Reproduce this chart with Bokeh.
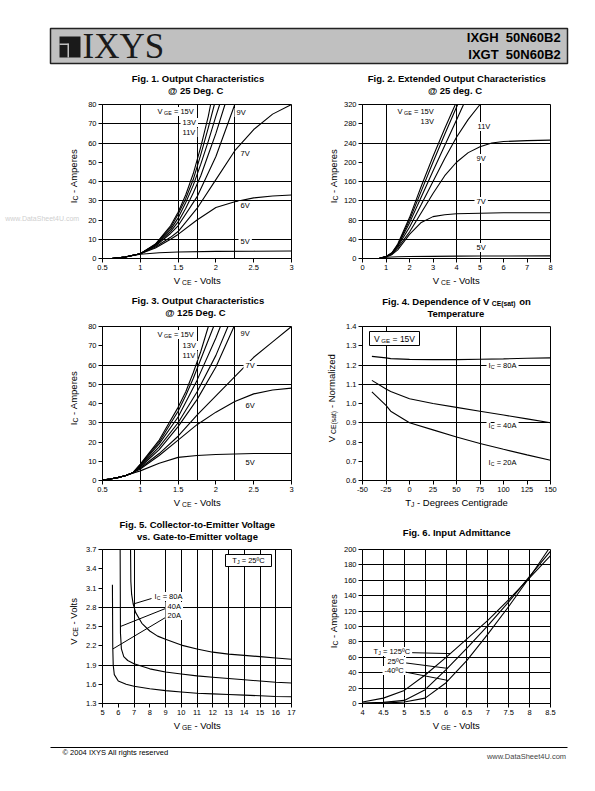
import math
import numpy as np
from bokeh.plotting import figure
from bokeh.models import Label, FixedTicker, Range1d, NumeralTickFormatter, BoxAnnotation
from bokeh.layouts import column, row
from bokeh.embed import file_html
from bokeh.resources import INLINE

FONT = "Liberation Sans"
SERIF = "Liberation Serif"

# ---------------- data ----------------
# Fig 1: Output characteristics @ 25C  (VCE [V], IC [A])
f1_15_x = [0.62, 0.8, 1.0, 1.2, 1.4, 1.5, 1.6, 1.7, 1.8, 1.9, 1.93]
f1_15_y = [0, 0.8, 2.5, 7.5, 17, 24, 33, 44, 58, 74, 80]
f1_13_x = [0.62, 0.8, 1.0, 1.2, 1.4, 1.5, 1.6, 1.7, 1.8, 1.9, 1.98]
f1_13_y = [0, 0.8, 2.5, 7.3, 16, 23, 31, 41, 54, 68, 80]
f1_11_x = [0.62, 0.8, 1.0, 1.2, 1.4, 1.5, 1.6, 1.7, 1.8, 1.9, 2.0, 2.05]
f1_11_y = [0, 0.8, 2.5, 7, 15, 21, 29, 38, 49, 61, 74, 80]
f1_10_x = [0.62, 0.8, 1.0, 1.2, 1.4, 1.5, 1.6, 1.7, 1.8, 1.9, 2.0, 2.12]
f1_10_y = [0, 0.8, 2.5, 7, 14, 19, 26, 34, 43, 54, 65, 80]
f1_9_x = [0.62, 0.8, 1.0, 1.2, 1.4, 1.5, 1.75, 2.0, 2.25]
f1_9_y = [0, 0.8, 2.5, 6.5, 13, 17, 32, 53, 80]
f1_7_x = [0.62, 0.8, 1.0, 1.2, 1.4, 1.5, 1.75, 2.0, 2.25, 2.5, 2.75, 3.0]
f1_7_y = [0, 0.8, 2.5, 6, 11, 14, 26, 41, 56, 67, 75, 80]
f1_6_x = [0.62, 0.8, 1.0, 1.2, 1.4, 1.5, 1.75, 2.0, 2.25, 2.5, 2.75, 3.0]
f1_6_y = [0, 0.8, 2.5, 5.5, 10, 12.5, 20, 26.5, 29.5, 31.5, 32.5, 33]
f1_5_x = [0.62, 0.8, 1.0, 1.25, 1.5, 2.0, 2.5, 3.0]
f1_5_y = [0, 0.8, 2.2, 3.0, 3.4, 3.7, 3.8, 3.9]

# Fig 2: Extended output characteristics @ 25C
f2_15_x = [0.7, 1.0, 1.25, 1.5, 2.0, 2.5, 3.0, 3.5, 3.95]
f2_15_y = [0, 4, 12, 30, 85, 150, 212, 270, 320]
f2_13_x = [0.7, 1.0, 1.25, 1.5, 2.0, 2.5, 3.0, 3.5, 4.05]
f2_13_y = [0, 4, 11, 28, 80, 140, 200, 258, 320]
f2_12_x = [0.7, 1.0, 1.25, 1.5, 2.0, 2.5, 3.0, 3.5, 4.0, 4.3]
f2_12_y = [0, 4, 11, 27, 74, 128, 182, 235, 288, 320]
f2_11_x = [0.7, 1.0, 1.25, 1.5, 2.0, 2.5, 3.0, 3.5, 4.0, 4.5, 5.0]
f2_11_y = [0, 4, 10, 25, 65, 112, 160, 208, 252, 289, 320]
f2_9_x = [0.7, 1.0, 1.25, 1.5, 2.0, 2.5, 3.0, 3.5, 4.0, 4.5, 5.0, 5.5, 6.0, 7.0, 8.0]
f2_9_y = [0, 4, 9, 22, 55, 95, 135, 172, 200, 220, 232, 240, 243, 245, 246]
f2_7_x = [0.7, 1.0, 1.25, 1.5, 2.0, 2.5, 3.0, 3.5, 4.0, 5.0, 6.0, 8.0]
f2_7_y = [0, 3, 8, 18, 50, 75, 87, 91, 93, 94, 95, 95]
f2_5_x = [0.7, 1.0, 1.5, 2.0, 3.0, 4.0, 5.0, 8.0]
f2_5_y = [0, 2.5, 3.5, 4, 4.5, 5, 5.2, 5.5]

# Fig 3: Output characteristics @ 125C
f3_15_x = [0.5, 0.6, 0.7, 0.8, 0.9, 1.0, 1.25, 1.5, 1.6, 1.7, 1.8, 1.9]
f3_15_y = [0.3, 0.8, 1.5, 2.5, 4, 8.5, 21, 38, 46, 56, 67, 80]
f3_13_x = [0.5, 0.6, 0.7, 0.8, 0.9, 1.0, 1.25, 1.5, 1.6, 1.7, 1.8, 1.9, 1.97]
f3_13_y = [0.3, 0.8, 1.5, 2.5, 4, 8.2, 20, 36, 44, 53, 63, 73, 80]
f3_11_x = [0.5, 0.6, 0.7, 0.8, 0.9, 1.0, 1.25, 1.5, 1.75, 2.0, 2.06]
f3_11_y = [0.3, 0.8, 1.5, 2.5, 4, 7.8, 19, 33, 52, 74, 80]
f3_10_x = [0.5, 0.6, 0.7, 0.8, 0.9, 1.0, 1.25, 1.5, 1.75, 2.0, 2.16]
f3_10_y = [0.3, 0.8, 1.5, 2.5, 4, 7.4, 17.5, 30, 46, 65, 80]
f3_9_x = [0.5, 0.6, 0.7, 0.8, 0.9, 1.0, 1.25, 1.5, 1.75, 2.0, 2.24]
f3_9_y = [0.3, 0.8, 1.5, 2.5, 4, 7, 16, 28, 42, 59, 80]
f3_7_x = [0.5, 0.6, 0.7, 0.8, 0.9, 1.0, 1.25, 1.5, 1.75, 2.0, 2.25, 2.5, 2.75, 3.0]
f3_7_y = [0.3, 0.8, 1.5, 2.5, 4, 6.5, 14, 23, 34, 44, 54, 64, 72, 80]
f3_6_x = [0.5, 0.6, 0.7, 0.8, 0.9, 1.0, 1.25, 1.5, 1.75, 2.0, 2.25, 2.5, 2.75, 3.0]
f3_6_y = [0.3, 0.8, 1.5, 2.5, 4, 6, 13, 21, 29, 35.5, 41, 45, 47, 48]
f3_5_x = [0.5, 0.6, 0.7, 0.8, 0.9, 1.0, 1.25, 1.5, 1.75, 2.0, 2.5, 3.0]
f3_5_y = [0.3, 0.8, 1.5, 2.5, 3.8, 5, 9, 12, 13, 13.5, 14, 14]

# Fig 4: VCE(sat) normalized vs temperature
f4_t = [-40, -25, -20, 0, 25, 50, 75, 100, 125, 150]
f4_80 = [1.245, 1.237, 1.233, 1.229, 1.228, 1.228, 1.230, 1.232, 1.235, 1.237]
f4_40 = [1.12, 1.075, 1.062, 1.025, 1.0, 0.98, 0.96, 0.94, 0.92, 0.90]
f4_20 = [1.06, 0.99, 0.96, 0.90, 0.863, 0.826, 0.792, 0.762, 0.733, 0.705]

# Fig 5: VCE vs VGE
f5_80_x = [6.78, 6.8, 6.85, 6.95, 7.1, 7.5, 8, 8.5, 9, 10, 11, 12, 13, 14, 15, 16, 17]
f5_80_y = [3.7, 3.2, 3.0, 2.85, 2.72, 2.55, 2.43, 2.35, 2.3, 2.21, 2.15, 2.1, 2.07, 2.05, 2.03, 2.01, 1.99]
f5_40_x = [6.12, 6.14, 6.2, 6.35, 6.6, 7, 8, 9, 10, 11, 12, 13, 14, 15, 16, 17]
f5_40_y = [3.7, 2.4, 2.15, 2.03, 1.97, 1.92, 1.84, 1.79, 1.76, 1.73, 1.71, 1.69, 1.67, 1.65, 1.63, 1.62]
f5_20_x = [5.63, 5.65, 5.68, 5.75, 6, 6.5, 7, 8, 9, 10, 11, 12, 13, 14, 15, 16, 17]
f5_20_y = [3.15, 2.2, 1.9, 1.75, 1.65, 1.6, 1.57, 1.53, 1.5, 1.48, 1.46, 1.45, 1.44, 1.43, 1.42, 1.41, 1.405]

# Fig 6: Input admittance
f6_125_x = [4.0, 4.5, 5.0, 5.5, 6.0, 6.5, 7.0, 7.5, 8.0, 8.5]
f6_125_y = [2, 7, 17, 37, 60, 84, 108, 135, 163, 192]
f6_25_x = [4.0, 4.5, 5.0, 5.5, 6.0, 6.5, 7.0, 7.5, 8.0, 8.5]
f6_25_y = [0.5, 1.5, 4, 18, 44, 72, 101, 132, 165, 198]
f6_m40_x = [4.0, 4.5, 5.0, 5.5, 6.0, 6.5, 7.0, 7.5, 8.0, 8.45]
f6_m40_y = [0, 0.5, 2, 7, 27, 56, 90, 126, 164, 200]

# ---------------- text helpers ----------------
NB = "\u00a0"
EM = {' ': .278, NB: .278, '.': .278, ',': .278, '-': .333, '=': .584, '(': .333, ')': .333, '@': 1.015,
      'º': .365, '©': .737, '/': .278}
for c in "0123456789":
    EM[c] = .556
EM.update(dict(zip("ABCDEFGHIJKLMNOPQRSTUVWXYZ",
                   [.667, .667, .722, .722, .667, .611, .778, .722, .278, .5, .667, .556, .833, .722, .778,
                    .667, .778, .722, .667, .611, .722, .667, .944, .667, .667, .611])))
EM.update(dict(zip("abcdefghijklmnopqrstuvwxyz",
                   [.556, .556, .5, .556, .556, .278, .556, .556, .222, .222, .5, .222, .833, .556, .556,
                    .556, .556, .333, .5, .278, .556, .5, .722, .5, .5, .5])))


def tw(s, size, bold=False):
    return sum(EM.get(c, .556) for c in s) * size * (1.07 if bold else 1.0)


class Geo:
    def __init__(self, x0, x1, y0, y1, xr, yr):
        self.x0, self.x1, self.y0, self.y1, self.xr, self.yr = x0, x1, y0, y1, xr, yr

    def x(self, px):
        return self.xr[0] + (px - self.x0) * (self.xr[1] - self.xr[0]) / (self.x1 - self.x0)

    def y(self, py):
        return self.yr[0] + (self.y1 - py) * (self.yr[1] - self.yr[0]) / (self.y1 - self.y0)


def rich(p, g, cx, cy, parts, size, align="center", bold=False, vertical=False, bg=None,
         color="black", font=FONT):
    sub = size * 0.72
    parts = [(t.replace(" ", NB), s) for t, s in parts]
    ws = [tw(t, sub if s else size, bold) for t, s in parts]
    L = sum(ws)
    off = {"left": 0.0, "center": -L / 2, "right": -L}[align]
    ax, ay = g.x(cx), g.y(cy)
    for (t, s), w in zip(parts, ws):
        sz = sub if s else size
        d = 0.26 * size if s else 0.0
        if vertical:
            xo, yo, ang = d, off, math.pi / 2
        else:
            xo, yo, ang = off, -d, 0.0
        lab = Label(x=ax, y=ay, x_offset=xo, y_offset=yo, text=t, angle=ang,
                    text_font=font, text_font_size=f"{sz:.1f}px",
                    text_font_style="bold" if bold else "normal",
                    text_color=color, text_align="left", text_baseline="middle")
        if bg:
            lab.background_fill_color = bg
            lab.background_fill_alpha = 1.0
        p.add_layout(lab)
        off += w


def band(w, h, x0, y0):
    p = figure(width=w, height=h, x_range=Range1d(x0, x0 + w), y_range=Range1d(y0 + h, y0),
               output_backend="svg", toolbar_location=None, min_border=0)
    p.axis.visible = False
    p.grid.visible = False
    p.outline_line_color = None
    p.background_fill_color = "white"
    p.border_fill_color = "white"
    return p, Geo(x0, x0 + w, y0, y0 + h, (x0, x0 + w), (y0 + h, y0))


def chart(w, h, bl, br, bt, bb, xr, yr, xt, yt, xg, yg, xfmt, yfmt, page_x0, page_y0):
    p = figure(width=w, height=h, x_range=Range1d(*xr), y_range=Range1d(*yr),
               output_backend="svg", toolbar_location=None,
               min_border_left=bl, min_border_right=br, min_border_top=bt, min_border_bottom=bb)
    p.outline_line_color = "black"
    p.outline_line_alpha = 1.0
    p.outline_line_width = 1
    p.background_fill_color = "white"
    p.border_fill_color = "white"
    for ax, ticks, fmt in ((p.xaxis[0], xt, xfmt), (p.yaxis[0], yt, yfmt)):
        ax.ticker = FixedTicker(ticks=ticks)
        ax.formatter = NumeralTickFormatter(format=fmt)
        ax.axis_line_color = "black"
        ax.major_tick_line_color = "black"
        ax.major_tick_out = 4
        ax.major_tick_in = 0
        ax.minor_tick_line_color = None
        ax.major_label_text_font = FONT
        ax.major_label_text_font_size = "7.5px"
        ax.major_label_text_color = "black"
        ax.major_label_standoff = 2
    p.xgrid.ticker = FixedTicker(ticks=xg)
    p.ygrid.ticker = FixedTicker(ticks=yg)
    p.grid.grid_line_color = "black"
    p.grid.grid_line_alpha = 1.0
    p.grid.grid_line_width = 1
    g = Geo(page_x0 + bl, page_x0 + w - br, page_y0 + bt, page_y0 + h - bb, xr, yr)
    return p, g


def curves(p, xs_ys):
    for xs, ys in xs_ys:
        p.line(xs, ys, line_color="black", line_width=1.1)


TS = 9.5   # title size
AS = 9.5   # axis label size
IS = 7.5   # inner label size

# page geometry (window 595 x 791, no body margin)
ROW_H = 174
L_W, C1_W, M_W, C2_W = 80, 220, 40, 254
R1_Y, R2_Y, R3_Y = 100, 322, 545

# ---------------- band 0: header + fig1/fig2 titles ----------------
b0, g0 = band(595, 100, 0, 0)
b0.add_layout(BoxAnnotation(left=50, right=567, top=28, bottom=63, fill_color="#c0c0c0", fill_alpha=1,
                            line_color="#222222", line_width=1.5, line_alpha=1))
b0.add_layout(BoxAnnotation(left=59, right=80, top=36, bottom=57, fill_color="#1a1a1a", fill_alpha=1,
                            line_color=None))
b0.add_layout(BoxAnnotation(left=59, right=68, top=43, bottom=44.5, fill_color="#c0c0c0", fill_alpha=1,
                            line_color=None))
b0.add_layout(BoxAnnotation(left=67, right=68.5, top=43, bottom=57, fill_color="#c0c0c0", fill_alpha=1,
                            line_color=None))
rich(b0, g0, 82, 46, [("IXYS", False)], 35, align="left", font=SERIF, color="#1a1a1a")
rich(b0, g0, 566, 37, [("IXGH  50N60B2", False)], 13, align="right", bold=True)
rich(b0, g0, 566, 54, [("IXGT  50N60B2", False)], 13, align="right", bold=True)
rich(b0, g0, 197, 78, [("Fig. 1. Output Characteristics", False)], TS, bold=True)
rich(b0, g0, 197, 90, [("@ 25 Deg. C", False)], TS, bold=True)
rich(b0, g0, 456, 78, [("Fig. 2. Extended Output Characteristics", False)], TS, bold=True)
rich(b0, g0, 456, 90, [("@ 25 deg. C", False)], TS, bold=True)

# ---------------- row 1 ----------------
s1, gs1 = band(L_W, ROW_H, 0, R1_Y)
rich(s1, gs1, 73, 181, [("I", False), ("C", True), (" - Amperes", False)], AS, vertical=True)
rich(s1, gs1, 79, 229, [("www.DataSheet4U.com", False)], 7, align="right", color="#cfcfcf")

p1, g1 = chart(C1_W, ROW_H, 22, 9, 4, 16, (0.5, 3), (0, 80),
               [0.5, 1, 1.5, 2, 2.5, 3], [0, 10, 20, 30, 40, 50, 60, 70, 80],
               [1, 1.5, 1.75, 2.25], [10, 30, 40, 60, 70], "0.[0]", "0", L_W, R1_Y)
curves(p1, [(f1_15_x, f1_15_y), (f1_13_x, f1_13_y), (f1_11_x, f1_11_y), (f1_10_x, f1_10_y),
            (f1_9_x, f1_9_y), (f1_7_x, f1_7_y), (f1_6_x, f1_6_y), (f1_5_x, f1_5_y)])
rich(p1, g1, 155, 111, [(" V", False), (" GE", True), (" = 15V ", False)], IS, align="left", bg="white")
rich(p1, g1, 180, 122, [(" 13V ", False)], IS, align="left", bg="white")
rich(p1, g1, 180, 132, [(" 11V ", False)], IS, align="left", bg="white")
rich(p1, g1, 234, 112, [(" 9V ", False)], IS, align="left", bg="white")
rich(p1, g1, 238, 153, [(" 7V ", False)], IS, align="left", bg="white")
rich(p1, g1, 238, 205, [(" 6V ", False)], IS, align="left", bg="white")
rich(p1, g1, 238, 241, [(" 5V ", False)], IS, align="left", bg="white")

m1, gm1 = band(M_W, ROW_H, L_W + C1_W, R1_Y)
rich(m1, gm1, 333, 181, [("I", False), ("C", True), (" - Amperes", False)], AS, vertical=True)

p2, g2 = chart(C2_W, ROW_H, 22, 44, 4, 16, (0, 8), (0, 320),
               [0, 1, 2, 3, 4, 5, 6, 7, 8], [0, 40, 80, 120, 160, 200, 240, 280, 320],
               [1, 4, 5], [40, 80, 120, 160, 240], "0", "0", L_W + C1_W + M_W, R1_Y)
curves(p2, [(f2_15_x, f2_15_y), (f2_13_x, f2_13_y), (f2_12_x, f2_12_y), (f2_11_x, f2_11_y),
            (f2_9_x, f2_9_y), (f2_7_x, f2_7_y), (f2_5_x, f2_5_y)])
rich(p2, g2, 395, 111, [(" V", False), (" GE", True), (" = 15V ", False)], IS, align="left", bg="white")
rich(p2, g2, 418, 121, [(" 13V ", False)], IS, align="left", bg="white")
rich(p2, g2, 475, 126, [(" 11V ", False)], IS, align="left", bg="white")
rich(p2, g2, 474, 158, [(" 9V ", False)], IS, align="left", bg="white")
rich(p2, g2, 474, 201, [(" 7V ", False)], IS, align="left", bg="white")
rich(p2, g2, 474, 247, [(" 5V ", False)], IS, align="left", bg="white")

# ---------------- band 1: row-1 x labels + fig3/fig4 titles ----------------
b1, gb1 = band(595, R2_Y - (R1_Y + ROW_H), 0, R1_Y + ROW_H)
rich(b1, gb1, 197, 280, [("V", False), (" CE", True), (" - Volts", False)], AS)
rich(b1, gb1, 456, 280, [("V", False), (" CE", True), (" - Volts", False)], AS)
rich(b1, gb1, 197, 300, [("Fig. 3. Output Characteristics", False)], TS, bold=True)
rich(b1, gb1, 197, 312, [("@ 125 Deg. C", False)], TS, bold=True)
rich(b1, gb1, 456, 301, [("Fig. 4. Dependence of V", False), ("CE(sat)", True), (" on", False)], TS, bold=True)
rich(b1, gb1, 456, 313, [("Temperature", False)], TS, bold=True)

# ---------------- row 2 ----------------
s2, gs2 = band(L_W, ROW_H, 0, R2_Y)
rich(s2, gs2, 73, 403, [("I", False), ("C", True), (" - Amperes", False)], AS, vertical=True)

p3, g3 = chart(C1_W, ROW_H, 22, 9, 4, 16, (0.5, 3), (0, 80),
               [0.5, 1, 1.5, 2, 2.5, 3], [0, 10, 20, 30, 40, 50, 60, 70, 80],
               [1, 1.5, 1.75, 2.25], [30, 50, 60], "0.[0]", "0", L_W, R2_Y)
curves(p3, [(f3_15_x, f3_15_y), (f3_13_x, f3_13_y), (f3_11_x, f3_11_y), (f3_10_x, f3_10_y),
            (f3_9_x, f3_9_y), (f3_7_x, f3_7_y), (f3_6_x, f3_6_y), (f3_5_x, f3_5_y)])
rich(p3, g3, 155, 334, [(" V", False), (" GE", True), (" = 15V ", False)], IS, align="left", bg="white")
rich(p3, g3, 180, 345, [(" 13V ", False)], IS, align="left", bg="white")
rich(p3, g3, 180, 355, [(" 11V ", False)], IS, align="left", bg="white")
rich(p3, g3, 238, 333, [(" 9V ", False)], IS, align="left", bg="white")
rich(p3, g3, 243, 365, [(" 7V ", False)], IS, align="left", bg="white")
rich(p3, g3, 243, 405, [(" 6V ", False)], IS, align="left", bg="white")
rich(p3, g3, 243, 462, [(" 5V ", False)], IS, align="left", bg="white")

m2, gm2 = band(M_W, ROW_H, L_W + C1_W, R2_Y)
rich(m2, gm2, 331, 403, [("V", False), (" CE(sat)", True), (" - Normalized", False)], AS, vertical=True)

p4, g4 = chart(C2_W, ROW_H, 22, 44, 4, 16, (-50, 150), (0.6, 1.4),
               [-50, -25, 0, 25, 50, 75, 100, 125, 150], [0.6, 0.7, 0.8, 0.9, 1.0, 1.1, 1.2, 1.3, 1.4],
               [-25, 50, 75], [0.9, 1.1, 1.2], "0", "0.0", L_W + C1_W + M_W, R2_Y)
curves(p4, [(f4_t, f4_80), (f4_t, f4_40), (f4_t, f4_20)])
p4.add_layout(BoxAnnotation(left=g4.x(369), right=g4.x(419), top=g4.y(331), bottom=g4.y(345),
                            fill_color="white", fill_alpha=1, line_color="black", line_width=1, line_alpha=1))
rich(p4, g4, 394, 338, [("V", False), (" GE", True), (" = 15V", False)], 8.5)
rich(p4, g4, 486, 365, [(" I", False), ("C", True), (" = 80A ", False)], IS, align="left", bg="white")
rich(p4, g4, 486, 425, [(" I", False), ("C", True), (" = 40A ", False)], IS, align="left", bg="white")
rich(p4, g4, 486, 462, [(" I", False), ("C", True), (" = 20A ", False)], IS, align="left", bg="white")

# ---------------- band 2: row-2 x labels + fig5/fig6 titles ----------------
b2, gb2 = band(595, R3_Y - (R2_Y + ROW_H), 0, R2_Y + ROW_H)
rich(b2, gb2, 197, 502, [("V", False), (" CE", True), (" - Volts", False)], AS)
rich(b2, gb2, 456, 502, [("T", False), ("J", True), (" - Degrees Centigrade", False)], AS)
rich(b2, gb2, 197, 524, [("Fig. 5. Collector-to-Emitter Voltage", False)], TS, bold=True)
rich(b2, gb2, 197, 536, [("vs. Gate-to-Emitter voltage", False)], TS, bold=True)
rich(b2, gb2, 456, 532, [("Fig. 6. Input Admittance", False)], TS, bold=True)

# ---------------- row 3 ----------------
s3, gs3 = band(L_W, ROW_H, 0, R3_Y)
rich(s3, gs3, 73, 626, [("V", False), (" CE", True), (" - Volts", False)], AS, vertical=True)

p5, g5 = chart(C1_W, ROW_H, 22, 9, 4, 16, (5, 17), (1.3, 3.7),
               list(range(5, 18)), [1.3, 1.6, 1.9, 2.2, 2.5, 2.8, 3.1, 3.4, 3.7],
               [7, 9, 10, 11, 12, 13, 14, 15, 16], [1.9, 2.8], "0", "0.0", L_W, R3_Y)
curves(p5, [(f5_80_x, f5_80_y), (f5_40_x, f5_40_y), (f5_20_x, f5_20_y)])
p5.add_layout(BoxAnnotation(left=g5.x(225), right=g5.x(271), top=g5.y(554), bottom=g5.y(566),
                            fill_color="white", fill_alpha=1, line_color="black", line_width=1, line_alpha=1))
rich(p5, g5, 248, 560, [("T", False), ("J", True), (" = 25ºC", False)], IS)
for (sx, sy, cxs, cys, at_v) in [(151, 598, f5_80_x, f5_80_y, 2.85), (165, 608, f5_40_x, f5_40_y, 2.5),
                                  (165, 617, f5_20_x, f5_20_y, 2.15)]:
    ex = float(np.interp(at_v, cys[::-1], cxs[::-1]))
    p5.segment(x0=[g5.x(sx)], y0=[g5.y(sy)], x1=[ex], y1=[at_v], line_color="black", line_width=1)
rich(p5, g5, 152, 596, [(" I", False), ("C", True), (" = 80A ", False)], IS, align="left", bg="white")
rich(p5, g5, 165, 606, [(" 40A ", False)], IS, align="left", bg="white")
rich(p5, g5, 165, 615, [(" 20A ", False)], IS, align="left", bg="white")

m3, gm3 = band(M_W, ROW_H, L_W + C1_W, R3_Y)
rich(m3, gm3, 333, 626, [("I", False), ("C", True), (" - Amperes", False)], AS, vertical=True)

p6, g6 = chart(C2_W, ROW_H, 22, 44, 4, 16, (4, 8.5), (0, 200),
               [4, 4.5, 5, 5.5, 6, 6.5, 7, 7.5, 8, 8.5], list(range(0, 201, 20)),
               [4.5, 5, 5.5, 6, 6.5, 7, 7.5, 8], [20, 40, 60, 80, 100, 120, 140, 160, 180], "0.[0]", "0",
               L_W + C1_W + M_W, R3_Y)
curves(p6, [(f6_125_x, f6_125_y), (f6_25_x, f6_25_y), (f6_m40_x, f6_m40_y)])
for (sx, sy, cxs, cys, at) in [(404, 652, f6_125_x, f6_125_y, 6.1), (402, 662, f6_25_x, f6_25_y, 6.03),
                                (402, 671, f6_m40_x, f6_m40_y, 6.05)]:
    ey = float(np.interp(at, cxs, cys))
    p6.segment(x0=[g6.x(sx)], y0=[g6.y(sy)], x1=[at], y1=[ey], line_color="black", line_width=1)
rich(p6, g6, 371, 651, [(" T", False), ("J", True), (" = 125ºC ", False)], IS, align="left", bg="white")
rich(p6, g6, 385, 661, [(" 25ºC ", False)], IS, align="left", bg="white")
rich(p6, g6, 382, 670, [(" -40ºC ", False)], IS, align="left", bg="white")

# ---------------- band 3: row-3 x labels + footer ----------------
B3_Y = R3_Y + ROW_H
b3, gb3 = band(595, 790 - B3_Y, 0, B3_Y)
rich(b3, gb3, 197, 725, [("V", False), (" GE", True), (" - Volts", False)], AS)
rich(b3, gb3, 456, 725, [("V", False), (" GE", True), (" - Volts", False)], AS)
b3.add_layout(BoxAnnotation(left=50, right=567, top=746.5, bottom=747.5, fill_color="black", fill_alpha=1,
                            line_color=None))
rich(b3, gb3, 62, 752, [("© 2004 IXYS All rights reserved", False)], 7.5, align="left")
rich(b3, gb3, 566, 756, [("www.DataSheet4U.com", False)], 7.5, align="right", color="#444444")

layout = column(
    b0,
    row(s1, p1, m1, p2),
    b1,
    row(s2, p3, m2, p4),
    b2,
    row(s3, p5, m3, p6),
    b3,
)
open("out.html", "w").write(file_html(layout, INLINE))
